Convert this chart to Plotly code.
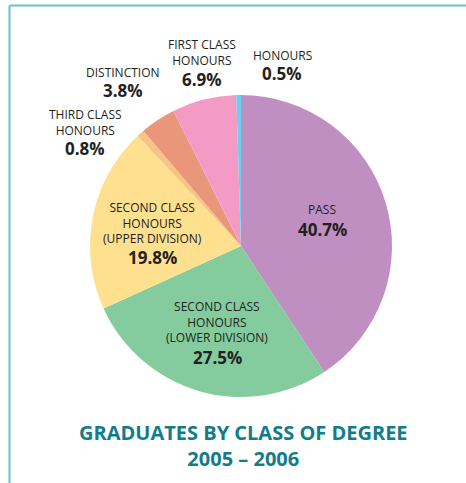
import plotly.graph_objects as go

categories = ["PASS", "SECOND CLASS<br>HONOURS<br>(LOWER DIVISION)", "SECOND CLASS<br>HONOURS<br>(UPPER DIVISION)",
              "THIRD CLASS<br>HONOURS", "DISTINCTION", "FIRST CLASS<br>HONOURS", "HONOURS"]
values = [40.7, 27.5, 19.8, 0.8, 3.8, 6.9, 0.5]
colors = ["#C08FC2", "#84CC9D", "#FEE08F", "#F8C386", "#E9967A", "#F39BC4", "#6ACFF4"]
title_lines = ["GRADUATES BY CLASS OF DEGREE", "2005 – 2006"]

W, H = 466, 483
cx, cy, r = 241, 246, 151

fig = go.Figure(go.Pie(
    labels=categories, values=values, sort=False, direction="clockwise", rotation=0,
    marker=dict(colors=colors, line=dict(width=0)),
    textinfo="none", hoverinfo="label+percent", showlegend=False,
    domain=dict(x=[(cx - r) / W, (cx + r) / W], y=[1 - (cy + r) / H, 1 - (cy - r) / H]),
))

# label placement (pixels): x center, y center of name block, y center of percentage
label_pos = [(322, 210, 229), (217, 322, 357), (152, 223, 257), (85, 122, 148),
             (123, 72, 90), (202, 53, 79), (282, 55, 73)]
ann = []
for cat, v, (x, yl, yp) in zip(categories, values, label_pos):
    ann.append(dict(
        x=x / W, y=1 - yl / H, xref="paper", yref="paper", showarrow=False,
        text=cat, font=dict(family="Open Sans", size=12, color="#231F20"), align="center",
        xanchor="center", yanchor="middle",
    ))
    ann.append(dict(
        x=x / W, y=1 - yp / H, xref="paper", yref="paper", showarrow=False,
        text=f"<b>{v:.1f}%</b>", font=dict(family="Open Sans", size=17, color="#231F20"),
        xanchor="center", yanchor="middle",
    ))
ann.append(dict(
    x=243 / W, y=1 - 445 / H, xref="paper", yref="paper", showarrow=False,
    text="<b>" + "<br>".join(title_lines) + "</b>",
    font=dict(family="Open Sans", size=20, color="#127C8A"), align="center",
    xanchor="center", yanchor="middle",
))

shapes = [
    dict(type="line", xref="paper", yref="paper", x0=9.5 / W, x1=1.0, y0=1 - 5.5 / H, y1=1 - 5.5 / H,
         line=dict(color="#6CC0CF", width=2)),
    dict(type="line", xref="paper", yref="paper", x0=9.5 / W, x1=9.5 / W, y0=1 - 5.5 / H, y1=0,
         line=dict(color="#6CC0CF", width=2)),
]

fig.update_layout(
    width=W, height=H, margin=dict(l=0, r=0, t=0, b=0),
    paper_bgcolor="white", plot_bgcolor="white",
    annotations=ann, shapes=shapes,
)
fig.write_html("out.html", config={"displayModeBar": False},
               post_script="document.body.style.margin='0';")
